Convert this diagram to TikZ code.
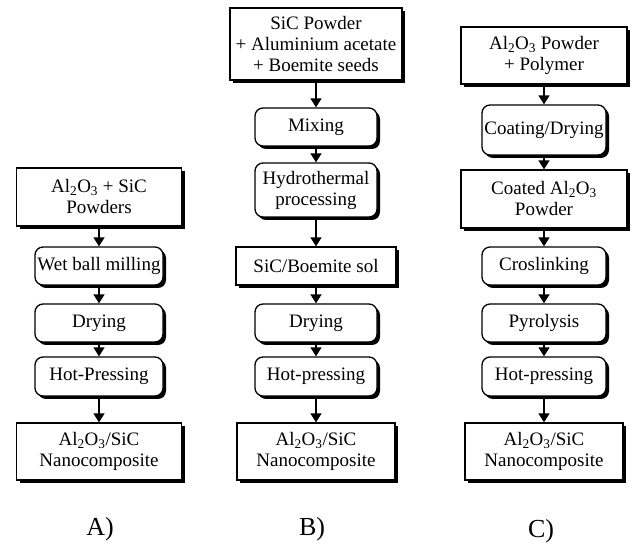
\documentclass[tikz,border=0pt]{standalone}
\usepackage{fontspec}
\setmainfont{Liberation Serif}
\usetikzlibrary{arrows.meta,shadows}
\begin{document}
\begin{tikzpicture}[x=1pt,y=1pt]
    \tikzstyle{sq}=[draw, line width=1.3pt, fill=white, align=center, inner sep=1pt,
      font=\fontsize{19}{21}\selectfont,
      drop shadow={shadow xshift=3pt, shadow yshift=-3pt, fill=black, opacity=1}]
    \tikzstyle{rd}=[sq, rounded corners=8pt]
    \tikzstyle{ar}=[-{Triangle[length=9pt,width=11pt]}, line width=1.5pt]
    \tikzstyle{lab}=[font=\fontsize{26}{28}\selectfont]
    \useasboundingbox (0,0) rectangle (638,549);
    % route A
    \node[sq, minimum width=165, minimum height=58] (a1) at (99,352) {Al\textsubscript{2}O\textsubscript{3} + SiC\\Powders};
    \node[rd, minimum width=128, minimum height=38] (a2) at (99,283) {Wet ball milling};
    \node[rd, minimum width=128, minimum height=38] (a3) at (99,226) {Drying};
    \node[rd, minimum width=128, minimum height=39] (a4) at (99,172.5) {Hot-Pressing};
    \node[sq, minimum width=165, minimum height=57] (a5) at (99,97.5) {Al\textsubscript{2}O\textsubscript{3}/SiC\\Nanocomposite};
    \node[lab] (la) at (100,20) {A)};
    % route B
    \node[sq, minimum width=172, minimum height=72] (b1) at (316,505) {SiC Powder\\+ Aluminium acetate\\+ Boemite seeds};
    \node[rd, minimum width=122, minimum height=38] (b2) at (316,422) {Mixing};
    \node[rd, minimum width=122, minimum height=54] (b3) at (316,359) {Hydrothermal\\processing};
    \node[sq, minimum width=160, minimum height=38] (b4) at (316,283) {SiC/Boemite sol};
    \node[rd, minimum width=122, minimum height=38] (b5) at (316,226) {Drying};
    \node[rd, minimum width=122, minimum height=39] (b6) at (316,172.5) {Hot-pressing};
    \node[sq, minimum width=158, minimum height=57] (b7) at (316,97.5) {Al\textsubscript{2}O\textsubscript{3}/SiC\\Nanocomposite};
    \node[lab] (lb) at (312,20) {B)};
    % route C
    \node[sq, minimum width=166, minimum height=57] (c1) at (544,493.5) {Al\textsubscript{2}O\textsubscript{3} Powder\\+ Polymer};
    \node[rd, minimum width=124, minimum height=50] (c2) at (544,419) {Coating/Drying};
    \node[sq, minimum width=166, minimum height=58] (c3) at (544,350) {Coated Al\textsubscript{2}O\textsubscript{3}\\Powder};
    \node[rd, minimum width=124, minimum height=38] (c4) at (544,283) {Croslinking};
    \node[rd, minimum width=124, minimum height=38] (c5) at (544,226) {Pyrolysis};
    \node[rd, minimum width=124, minimum height=39] (c6) at (544,172.5) {Hot-pressing};
    \node[sq, minimum width=158, minimum height=57] (c7) at (544,97.5) {Al\textsubscript{2}O\textsubscript{3}/SiC\\Nanocomposite};
    \node[lab] (lc) at (541,18) {C)};
    \draw[ar] (a1) -- (a2); \draw[ar] (a2) -- (a3);
    \draw[ar] (a3) -- (a4); \draw[ar] (a4) -- (a5);
    \draw[ar] (b1) -- (b2); \draw[ar] (b2) -- (b3);
    \draw[ar] (b3) -- (b4); \draw[ar] (b4) -- (b5);
    \draw[ar] (b5) -- (b6); \draw[ar] (b6) -- (b7);
    \draw[ar] (c1) -- (c2); \draw[ar] (c2) -- (c3);
    \draw[ar] (c3) -- (c4); \draw[ar] (c4) -- (c5);
    \draw[ar] (c5) -- (c6); \draw[ar] (c6) -- (c7);
  \end{tikzpicture}
\end{document}
